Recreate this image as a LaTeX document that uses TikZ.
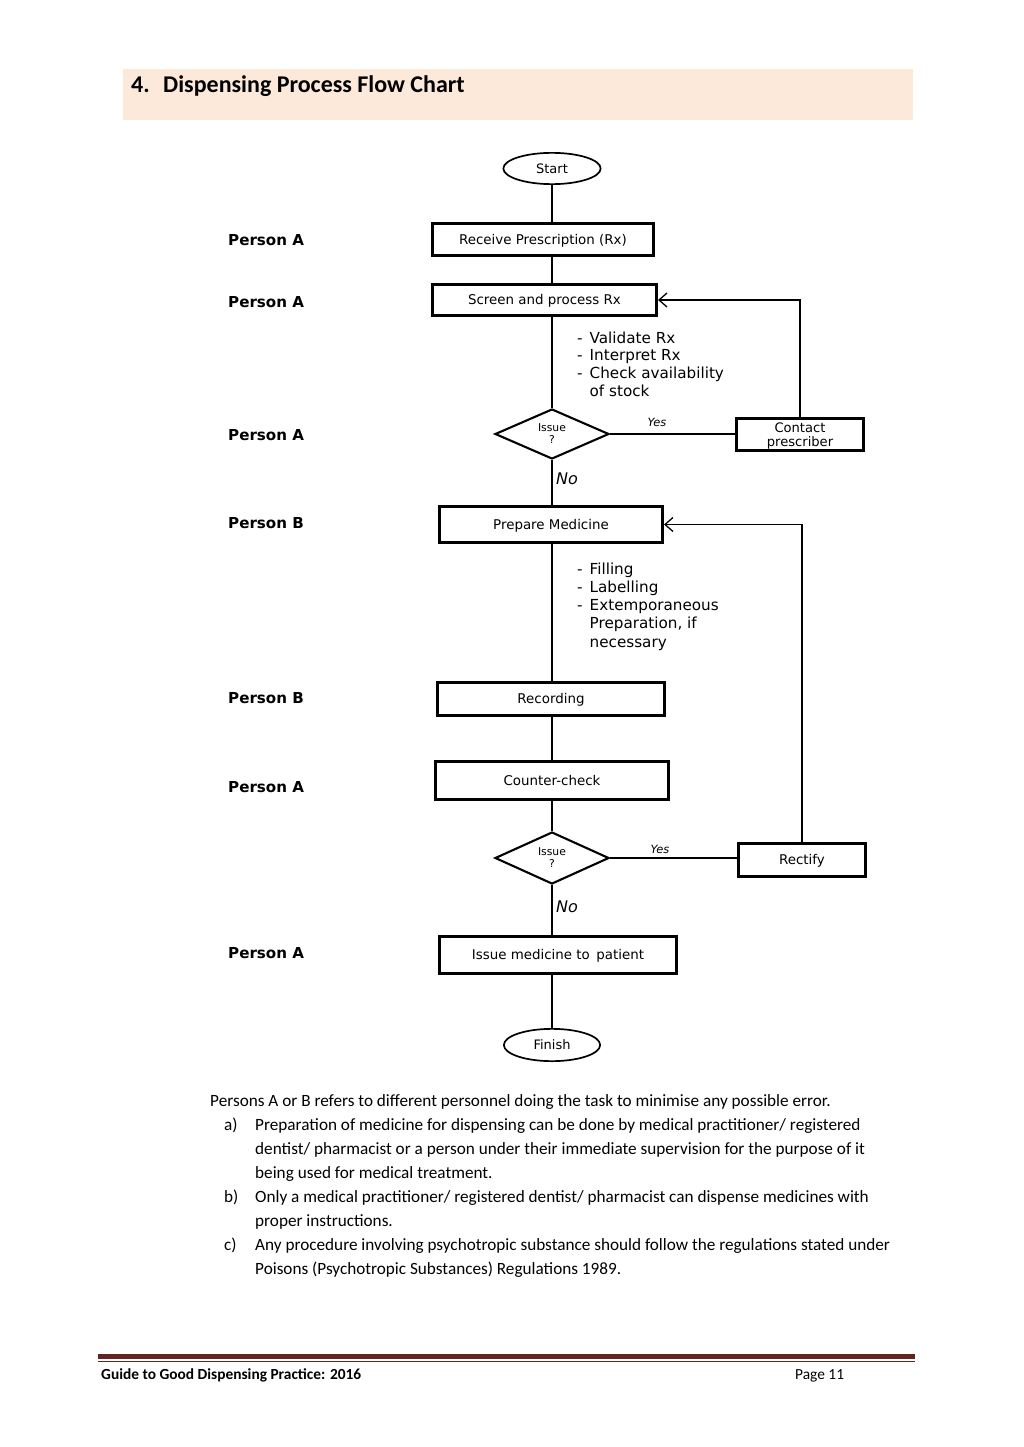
\documentclass[tikz,border=0pt]{standalone}
\usepackage{fontspec}
\setmainfont{Carlito}
\newfontfamily\vfont{DejaVu Sans}
\usetikzlibrary{shapes.geometric,arrows.meta}
\definecolor{hdrfill}{RGB}{253,233,217}
\definecolor{footmaroon}{RGB}{98,36,35}
\newcommand{\setfs}[2]{\fontsize{#1}{#2}\selectfont}
\begin{document}
\begin{tikzpicture}[x=1pt,y=-1pt,
  box/.style={draw, line width=2.7pt, inner sep=0pt, text height=9.8pt, text depth=0pt,
    font=\vfont\setfs{13.4}{15}},
  term/.style={draw, ellipse, line width=1.7pt, inner sep=0pt, text height=9.4pt, text depth=0pt,
    font=\vfont\setfs{13}{15}},
  decide/.style={draw, diamond, line width=2.1pt, inner sep=0pt, align=center,
    font=\vfont\setfs{10.8}{12}},
  conn/.style={line width=1.3pt},
  fb/.style={conn, -{Straight Barb[length=8pt,width=14pt,line width=1.3pt]}},
  person/.style={anchor=west, inner sep=0pt, text height=11pt, text depth=0pt,
    font=\vfont\bfseries\setfs{15.1}{17}},
  yeslbl/.style={inner sep=0pt, text height=8.3pt, text depth=0pt, font=\vfont\itshape\setfs{11.4}{13}},
  nolbl/.style={inner sep=0pt, text height=11.7pt, text depth=0pt, font=\vfont\itshape\setfs{16}{18}},
  listtxt/.style={anchor=base west, inner sep=0pt, font=\vfont\setfs{15.2}{#1}},
]
\useasboundingbox (0,0) rectangle (1023,1447);

% header
\fill[hdrfill] (123,69) rectangle (913,120);
\node[anchor=base west, inner sep=0pt, font=\bfseries\setfs{24}{28}] (title) at (131,93)
  {\makebox[32pt][l]{4.}Dispensing Process Flow Chart};

% flow nodes
\node[term, minimum width=97.3pt, minimum height=31.3pt] (start) at (552,168.5) {Start};
\node[box, minimum width=221.3pt, minimum height=32.3pt] (recv) at (543,239.5) {Receive Prescription (Rx)};
\node[box, minimum width=224.3pt, minimum height=31.3pt] (screen) at (544.5,300) {Screen and process Rx};
\node[decide, minimum width=114pt, minimum height=50pt] (d1) at (552,434) {Issue\\?};
\node[box, minimum width=127.3pt, minimum height=32.3pt] (contact) at (800,434.5) {};
\node[align=center, inner sep=0pt, font=\vfont\setfs{13.1}{14}] (contacttxt) at (800,436) {Contact\\prescriber};
\node[box, minimum width=223.3pt, minimum height=36.3pt] (prep) at (551,524.5) {Prepare Medicine};
\node[box, minimum width=227.3pt, minimum height=33.3pt] (rec) at (551,699) {Recording};
\node[box, minimum width=233.3pt, minimum height=38.3pt] (cc) at (552,780.5) {Counter-check};
\node[decide, minimum width=114pt, minimum height=52pt] (d2) at (552,858) {Issue\\?};
\node[box, minimum width=127.3pt, minimum height=33.3pt] (rectify) at (802,860) {Rectify};
\node[box, minimum width=237.3pt, minimum height=37.3pt] (issue) at (558,955) {Issue medicine to\, patient};
\node[term, minimum width=96.3pt, minimum height=32.3pt] (finish) at (552,1045) {Finish};

% connectors
\draw[conn] (start.south) -- (start.south |- recv.north);
\draw[conn] (recv.south -| start.south) -- (screen.north -| start.south);
\draw[conn] (screen.south -| start.south) -- (d1.north);
\draw[conn] (d1.south) -- (d1.south |- prep.north);
\draw[conn] (prep.south -| d1.south) -- (rec.north -| d1.south);
\draw[conn] (rec.south -| d1.south) -- (cc.north -| d1.south);
\draw[conn] (cc.south -| d1.south) -- (d2.north);
\draw[conn] (d2.south) -- (d2.south |- issue.north);
\draw[conn] (issue.south -| d2.south) -- (finish.north);
\draw[conn] (d1.east) -- (d1.east -| contact.west);
\draw[conn] (d2.east) -- (d2.east -| rectify.west);
\draw[fb] (contact.north) |- (screen.east);
\draw[fb] (rectify.north) |- (prep.east);

% branch labels
\node[yeslbl] (yes1) at (657,422) {Yes};
\node[yeslbl] (yes2) at (660,849) {Yes};
\node[nolbl] (no1) at (567,479) {No};
\node[nolbl] (no2) at (567,907) {No};

% lists
\node[listtxt=17.7] (list1) at (577,343)
  {\begin{tabular}[t]{@{}l@{\hspace{7pt}}l@{}}
   - & Validate Rx\\ - & Interpret Rx\\ - & Check availability\\ & of stock
   \end{tabular}};
\node[listtxt=18.25] (list2) at (577,574)
  {\begin{tabular}[t]{@{}l@{\hspace{7pt}}l@{}}
   - & Filling\\ - & Labelling\\ - & Extemporaneous\\ & Preparation, if\\ & necessary
   \end{tabular}};

% persons
\node[person] (p1) at (228,240) {Person A};
\node[person] (p2) at (228,302) {Person A};
\node[person] (p3) at (228,435) {Person A};
\node[person] (p4) at (228,523) {Person B};
\node[person] (p5) at (228,698) {Person B};
\node[person] (p6) at (228,787) {Person A};
\node[person] (p7) at (228,953) {Person A};

% notes
\node[anchor=base west, inner sep=0pt, font=\setfs{17.2}{24}] (notes) at (210,1106)
  {\begin{tabular}[t]{@{}p{45pt}@{}l@{}}
   \multicolumn{2}{@{}l@{}}{Persons A or B refers to different personnel doing the task to minimise any possible error.}\\
   \hspace{14pt}a) & Preparation of medicine for dispensing can be done by medical practitioner/ registered\\
   & dentist/ pharmacist or a person under their immediate supervision for the purpose of it\\
   & being used for medical treatment.\\
   \hspace{14pt}b) & Only a medical practitioner/ registered dentist/ pharmacist can dispense medicines with\\
   & proper instructions.\\
   \hspace{14pt}c) & Any procedure involving psychotropic substance should follow the regulations stated under\\
   & Poisons (Psychotropic Substances) Regulations 1989.
   \end{tabular}};

% footer
\fill[footmaroon] (98,1354) rectangle (915,1359);
\draw[footmaroon, line width=1pt] (98,1361.5) -- (915,1361.5);
\node[anchor=base west, inner sep=0pt, font=\bfseries\setfs{15.4}{18}] (foot) at (101,1379)
  {Guide to Good Dispensing Practice: 2016};
\node[anchor=base west, inner sep=0pt, font=\setfs{15.4}{18}] (page) at (795,1379) {Page 11};
\end{tikzpicture}
\end{document}
